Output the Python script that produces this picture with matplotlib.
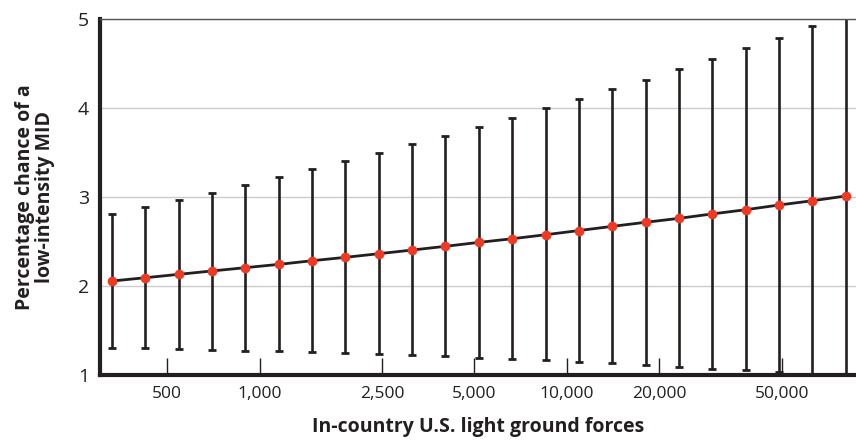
import matplotlib
matplotlib.use("Agg")
import matplotlib.pyplot as plt
from matplotlib.ticker import FixedLocator, NullLocator

plt.rcParams['font.family'] = ['Open Sans', 'DejaVu Sans']

# in-country U.S. light ground forces (troops)
forces = [330, 424, 545, 699, 898, 1153, 1480, 1901, 2441, 3134, 4024, 5167,
          6634, 8519, 10938, 14045, 18034, 23156, 29733, 38177, 49021, 62944, 80821]
# predicted percentage chance of a low-intensity MID
pred = [2.056, 2.093, 2.131, 2.169, 2.206, 2.243, 2.284, 2.322, 2.363, 2.404, 2.446, 2.490,
        2.531, 2.576, 2.623, 2.670, 2.716, 2.760, 2.810, 2.857, 2.910, 2.958, 3.011]
upper = [2.81, 2.89, 2.97, 3.05, 3.135, 3.225, 3.31, 3.40, 3.494, 3.59, 3.69, 3.79,
         3.89, 4.00, 4.10, 4.21, 4.32, 4.435, 4.55, 4.67, 4.79, 4.92, 5.05]
lower = [1.305, 1.298, 1.290, 1.282, 1.274, 1.265, 1.255, 1.244, 1.232, 1.221, 1.209, 1.195,
         1.180, 1.165, 1.148, 1.131, 1.112, 1.093, 1.072, 1.052, 1.030, 1.005, 0.98]

xticks = [500, 1000, 2500, 5000, 10000, 20000, 50000]
xticklabels = ['500', '1,000', '2,500', '5,000', '10,000', '20,000', '50,000']
yticks = [1, 2, 3, 4, 5]

fig = plt.figure(figsize=(8.56, 4.44), dpi=100)
ax = fig.add_axes([100/856, 69/444, 756/856, 356/444])

err_lo = [p - l for p, l in zip(pred, lower)]
err_hi = [u - p for p, u in zip(pred, upper)]
ax.errorbar(forces, pred, yerr=[err_lo, err_hi], fmt='none', ecolor='#231f20',
            elinewidth=1.9, capsize=3, capthick=2, zorder=2)
ax.plot(forces, pred, color='#231f20', lw=2, zorder=3)
ax.plot(forces, pred, 'o', color='#ee3a24', ms=7, mec='none', zorder=4)

ax.set_xscale('log')
ax.set_xlim(302, 87300)
ax.set_ylim(1, 5)
ax.xaxis.set_major_locator(FixedLocator(xticks))
ax.xaxis.set_minor_locator(NullLocator())
ax.set_xticklabels(xticklabels)
ax.set_yticks(yticks)

ax.grid(axis='y', color='#cccccc', lw=1)
ax.set_axisbelow(True)

ax.spines['right'].set_visible(False)
ax.spines['top'].set_color('#555555')
ax.spines['top'].set_linewidth(1)
for s in ['left', 'bottom']:
    ax.spines[s].set_linewidth(3)
    ax.spines[s].set_color('#231f20')

ax.tick_params(axis='x', direction='in', length=12, width=1, color='#231f20',
               labelsize=12.5, pad=8, labelcolor='#231f20')
ax.tick_params(axis='y', length=0, labelsize=14, pad=8, labelcolor='#231f20')

ax.set_xlabel('In-country U.S. light ground forces', fontsize=14, fontweight='bold',
              color='#231f20', labelpad=11)
ax.set_ylabel('Percentage chance of a\nlow-intensity MID', fontsize=14, fontweight='bold',
              color='#231f20', labelpad=16, linespacing=1.05)

fig.savefig('out.png', dpi=100)
